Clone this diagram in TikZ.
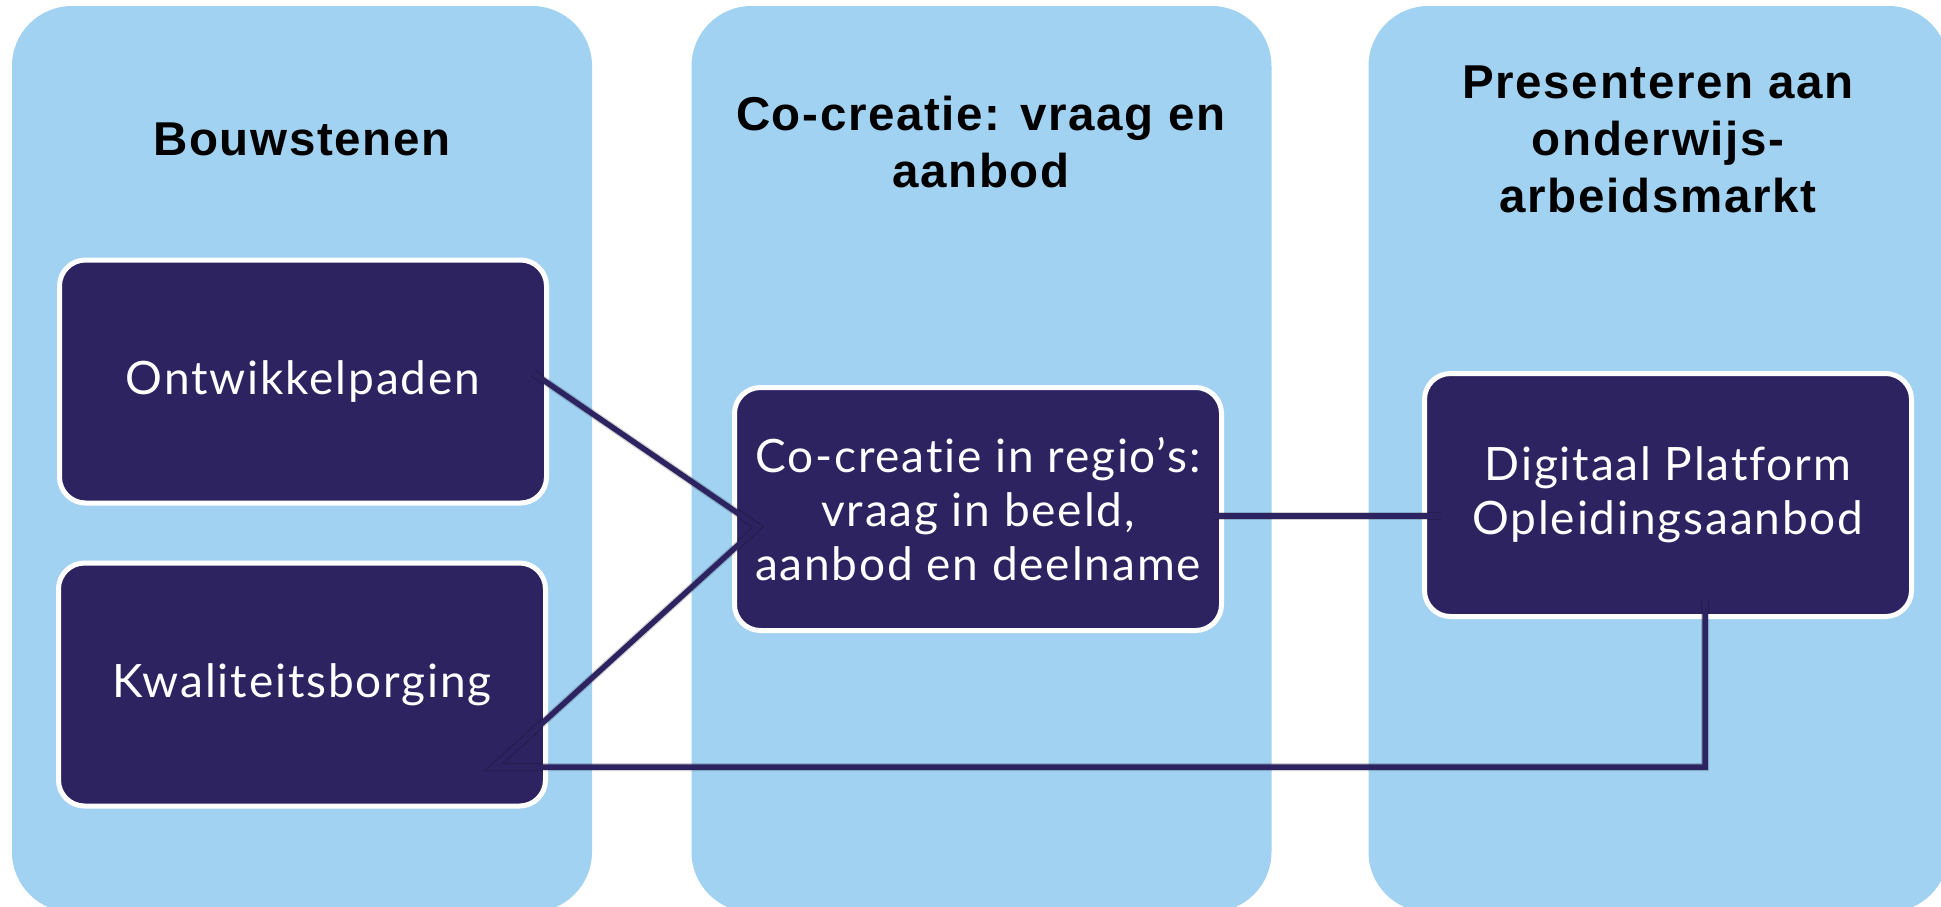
\documentclass[tikz,border=0pt]{standalone}
\usepackage{fontspec}
\setmainfont[Ligatures=NoCommon,LetterSpace=4]{Lato}
\newfontfamily\titlefont[LetterSpace=3.5]{Liberation Sans}
\usetikzlibrary{calc}
\definecolor{panelblue}{RGB}{162,210,241}
\definecolor{navy}{RGB}{46,35,97}
\tikzset{
  panel/.style={fill=panelblue, rounded corners=60pt, minimum width=580pt, minimum height=906pt, inner sep=0pt, anchor=center},
  ttl/.style={font=\titlefont\bfseries\fontsize{47.5}{57}\selectfont, text=black, align=center},
  darkbox/.style={fill=navy, draw=white, line width=5pt, rounded corners=26pt, minimum width=487pt, minimum height=243pt, inner sep=0pt, text=white, align=center, font=\fontsize{46}{54}\selectfont},
  conn/.style={draw=navy, line width=5.5pt, line join=miter},
  connshadow/.style={draw=black, opacity=0.18, line width=8pt, line join=miter},
}
\begin{document}
\begin{tikzpicture}[x=1pt, y=-1pt]
\useasboundingbox (0,0) rectangle (1941,906);
\clip (0,0) rectangle (1941,906);
\fill[white] (0,0) rectangle (1941,906);
% panels
\node[panel] (p1) at (302,459) {};
\node[panel] (p2) at (981.5,459) {};
\node[panel] (p3) at (1658.5,459) {};
% titles
\node[ttl] (t1) at (302,139) {Bouwstenen};
\node[ttl] (t2) at (981,142) {Co-creatie: vraag en\\aanbod};
\node[ttl] (t3) at (1658,139) {Presenteren aan\\onderwijs-\\arbeidsmarkt};
% boxes
\node[darkbox] (b1) at (303,381.5) {Ontwikkelpaden};
\node[darkbox] (b2) at (302,684.5) {Kwaliteitsborging};
\node[darkbox] (b3) at (978,509) {Co-creatie in regio’s:\\vraag in beeld,\\aanbod en deelname};
\node[darkbox] (b4) at (1668,495) {Digitaal Platform\\Opleidingsaanbod};
% connector anchor points inside boxes
\coordinate (c1) at ($(b1.east)+(-16,-8.5)$);
\coordinate (c3) at ($(b3.west)+(26,18)$);
\coordinate (c2) at ($(b2.east)+(-54,82.5)$);
\coordinate (c4) at ($(b4.south)+(37,-19)$);
\coordinate (c4b) at (c4 |- c2);
\coordinate (c5) at ($(b3.east)+(-10,7)$);
\coordinate (c6) at ($(b4.west)+(19,21)$);
% shadows
\begin{scope}[shift={(1.5,3.5)}]
\draw[connshadow] (c1) -- (c3) -- (c2) -- (c4b) -- (c4);
\draw[connshadow] (c5) -- (c6);
\end{scope}
% connectors
\draw[conn] (c1) -- (c3) -- (c2) -- (c4b) -- (c4);
\draw[conn] (c5) -- (c6);
\end{tikzpicture}
\end{document}
